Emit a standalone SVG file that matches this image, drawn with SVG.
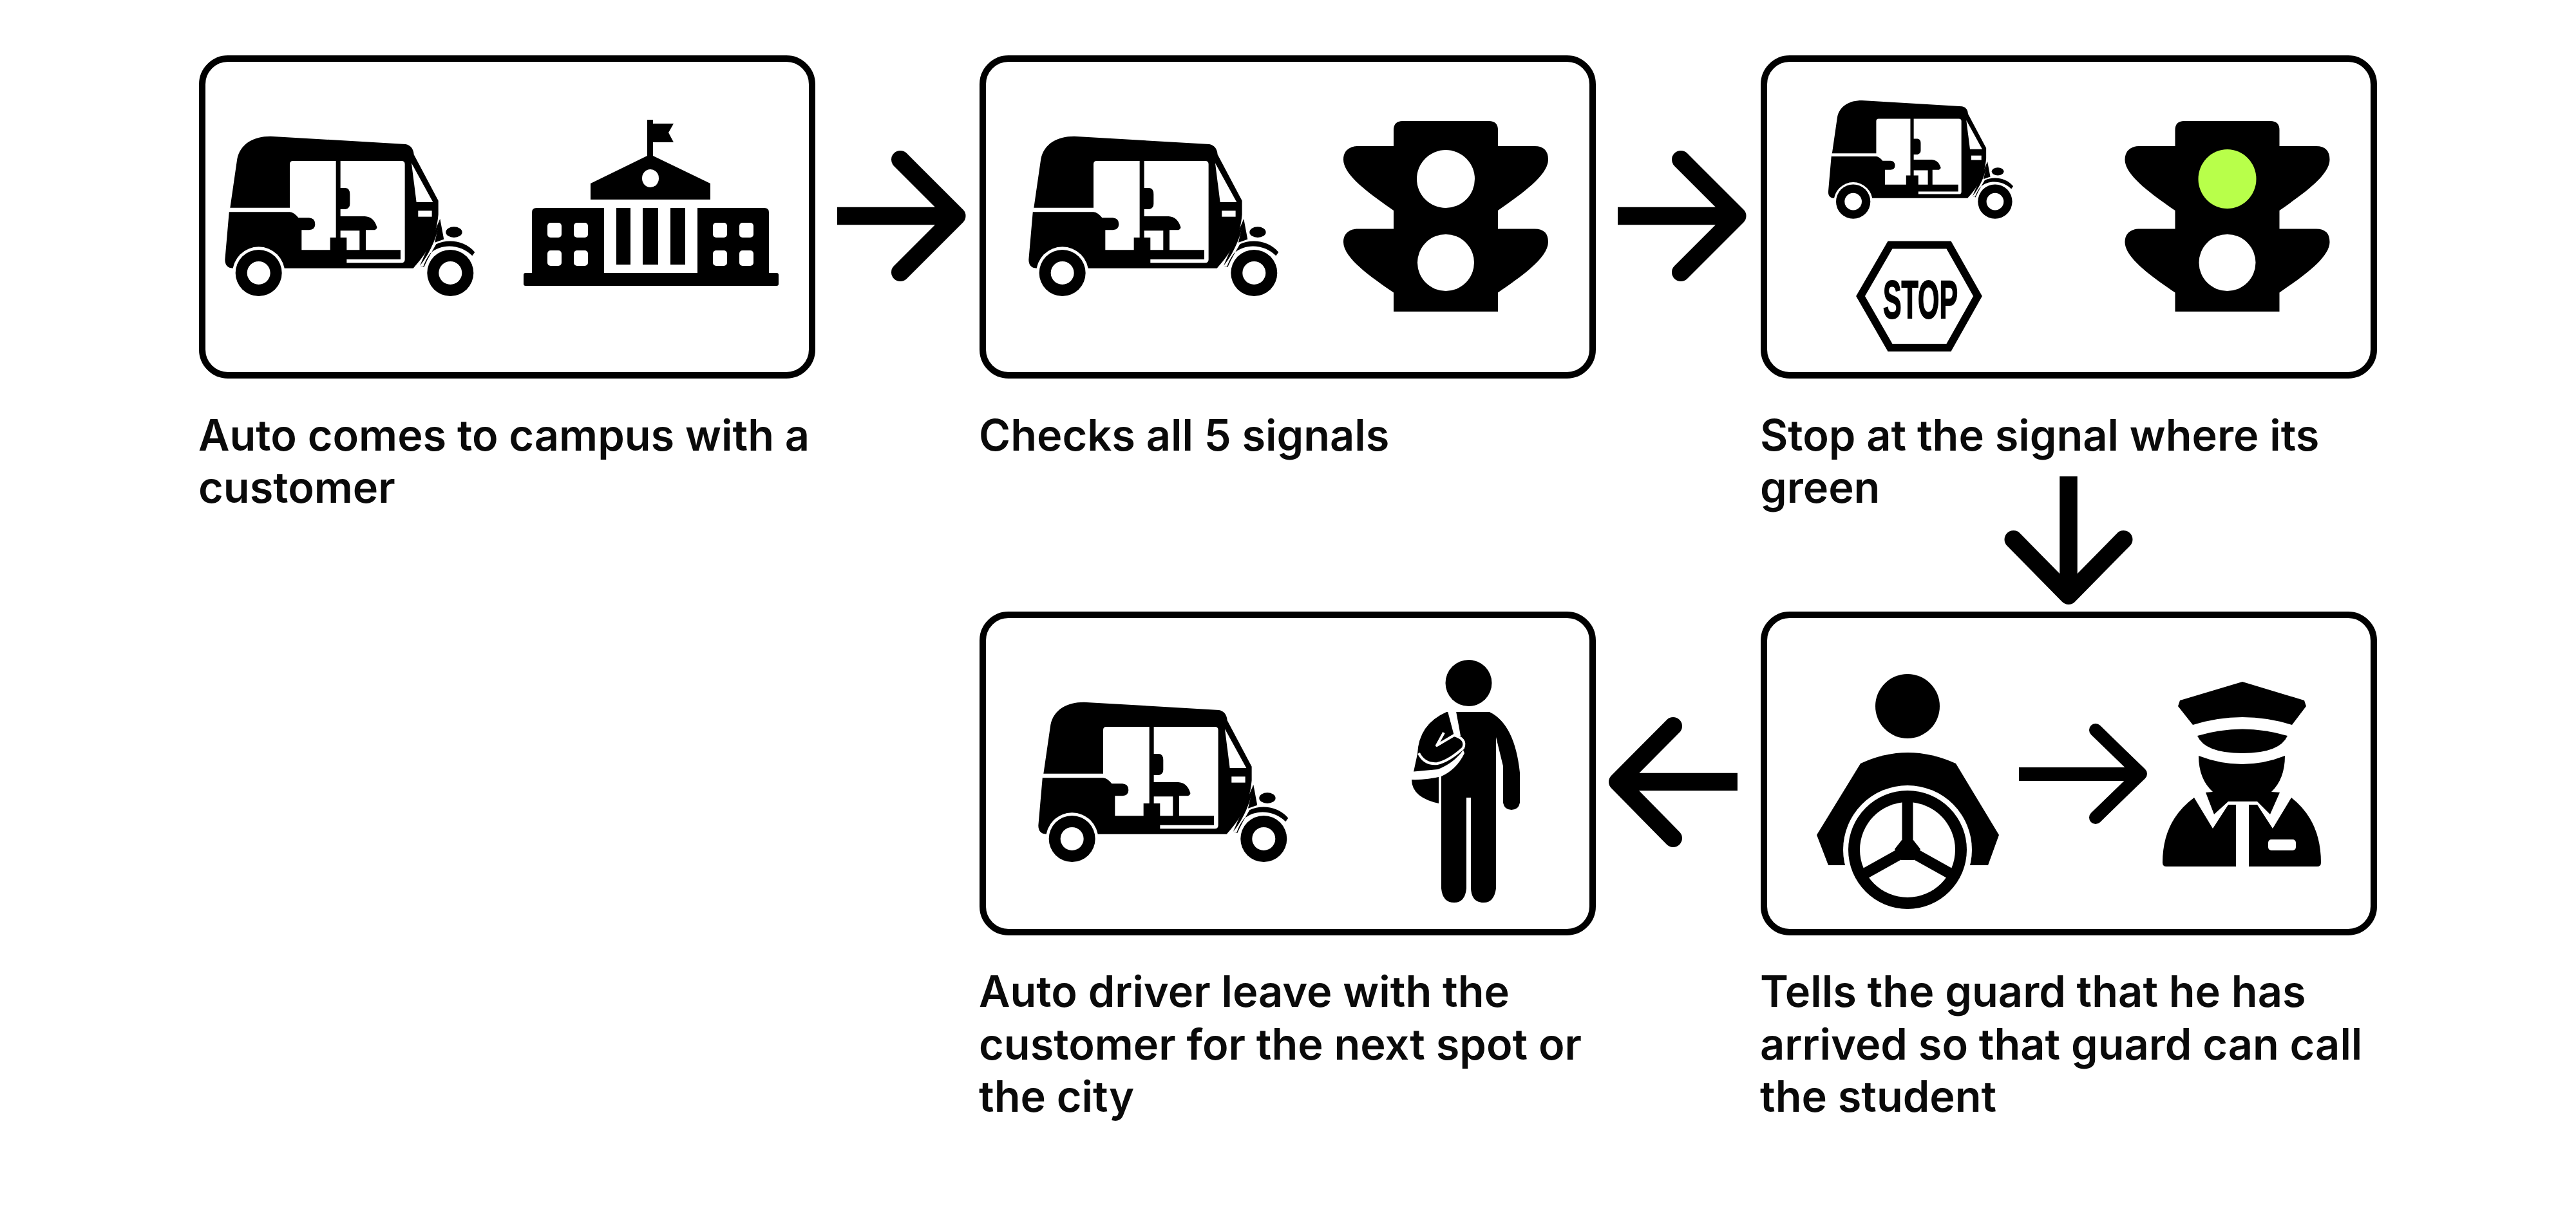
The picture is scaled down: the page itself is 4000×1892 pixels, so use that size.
<svg xmlns="http://www.w3.org/2000/svg" width="4000" height="1892" viewBox="0 0 4000 1892">
<style>
.panel{fill:#fff;stroke:#000;stroke-width:10}
.lbl{font-family:Inter,"Liberation Sans",sans-serif;font-weight:600;font-size:66.700px;fill:#0a0a0a}
.shaft{fill:none;stroke:#000;stroke-width:27.500}
.head{fill:none;stroke:#000;stroke-width:28;stroke-linejoin:round;stroke-linecap:round}
.w{fill:#fff}
.k{fill:#000}
</style>
<defs>
<g id="auto">
<path class="k" d="M52 398L85 170C100 100 160 65 240 65L870 102Q905 110 908 150L1022 365V430C1015 520 980 600 905 680H305L65 680C40 680 28 665 28 640L48 410Z"/>
<path class="w" d="M330 398V195Q330 180 345 180H545V537H518V595H385V502H420Q448 500 448 475Q448 447 420 445H370Q350 420 330 418H45L50 398Z"/>
<path class="w" d="M566 180H850Q866 180 866 195V640Q866 655 850 655H595V638H846V595H684V502H725Q740 495 735 485Q720 440 680 438H566V405H590Q610 400 610 380V335Q610 308 590 306H566Z"/>
<path class="w" d="M566 505H655V595H595V537H566Z"/>
<path class="w" d="M897 190L997 372H920Z"/>
<rect class="w" x="928" y="412" width="64" height="28"/>
<circle class="w" cx="185" cy="702" r="122"/>
<circle class="k" cx="185" cy="702" r="108"/>
<circle class="w" cx="185" cy="702" r="54"/>
<path class="k" d="M1030 450C1022 520 985 610 936 668L955 675C975 630 1000 590 1012 568C1060 545 1140 545 1192 605L1180 622C1130 570 1040 560 985 610C970 630 960 650 952 672L936 668Z"/>
<path class="k" d="M1030 450L1048 545L1005 560Z"/>
<ellipse class="k" cx="1095" cy="512" rx="38" ry="25"/>
<circle class="k" cx="1078" cy="702" r="108"/>
<circle class="w" cx="1078" cy="702" r="54"/>
</g>
<g id="light">
<path class="k" d="M-81 -131V-156Q-81 -170 -67 -170H67Q81 -170 81 -156V-131H138Q159 -131 159 -110C159 -85 115 -55 81 -31V-2.500H138Q159 -2.500 159 18C159 43 115 73 81 96.500V126H-81V96.500C-115 73 -159 43 -159 18C-159 -2.500 -138 -2.500 -138 -2.500H-81V-31C-115 -55 -159 -85 -159 -110C-159 -131 -138 -131 -138 -131Z"/>
</g>
</defs>
<rect width="4000" height="1892" fill="#fff"/>

<g id="connectors">
<path class="shaft" d="M1300 335.500H1485"/><path class="head" d="M1398 248L1485.500 335.500L1398 423"/>
<path class="shaft" d="M2512 335.500H2697"/><path class="head" d="M2610 248L2697.500 335.500L2610 423"/>
<path class="shaft" d="M3212 740V925"/><path class="head" d="M3126.500 838L3212 925L3297.500 838"/>
<path class="shaft" d="M2698 1214.500H2512"/><path class="head" d="M2598 1128L2512 1214.500L2598 1302"/>
</g>

<g id="node1">
<rect class="panel" x="314" y="91" width="947" height="492" rx="40"/>
<use href="#auto" transform="translate(340,190) scale(.3333)"/>
<g id="campus">
<rect class="k" x="813" y="424" width="396" height="20" rx="3"/>
<path class="k" d="M826 424V330Q826 323 833 323H938V424ZM1083 424V323H1187Q1194 323 1194 330V424Z"/>
<path class="k" d="M957 323h22v88h-22zM998 323h24v88h-24zM1041 323h23v88h-23z"/>
<path class="k" d="M917 310V285L1005 242V186H1014V192H1046L1038 206L1046 221H1014V242L1103 285V310Z"/>
<ellipse class="w" cx="1010" cy="277" rx="13" ry="14"/>
<g class="w">
<rect x="850" y="346" width="22" height="23" rx="5"/><rect x="891" y="346" width="22" height="23" rx="5"/>
<rect x="850" y="389" width="22" height="24" rx="5"/><rect x="891" y="389" width="22" height="24" rx="5"/>
<rect x="1107" y="346" width="22" height="23" rx="5"/><rect x="1148" y="346" width="22" height="23" rx="5"/>
<rect x="1107" y="389" width="22" height="24" rx="5"/><rect x="1148" y="389" width="22" height="24" rx="5"/>
</g>
</g>
<text class="lbl" x="308" y="700">Auto comes to campus with a</text>
<text class="lbl" x="308" y="781">customer</text>
</g>

<g id="node2">
<rect class="panel" x="1526" y="91" width="947" height="492" rx="40"/>
<use href="#auto" transform="translate(1588,190) scale(.3333)"/>
<use href="#light" transform="translate(2245,358)"/>
<ellipse class="w" cx="2245" cy="278" rx="45" ry="45"/>
<ellipse class="w" cx="2245" cy="408" rx="44" ry="44"/>
<text class="lbl" x="1520" y="700">Checks all 5 signals</text>
</g>

<g id="node3">
<rect class="panel" x="2739" y="91" width="947" height="492" rx="40"/>
<use href="#auto" transform="translate(2832,140) scale(.2467)"/>
<g id="stop">
<path fill="#fff" stroke="#000" stroke-width="12" d="M2935 380.500H3026L3071 460L3026 540H2935L2889 460Z"/>
<text x="2982" y="494" font-family="'Liberation Sans Narrow','Liberation Sans',sans-serif" font-weight="700" font-size="83" textLength="116" lengthAdjust="spacingAndGlyphs" text-anchor="middle" stroke="#000" stroke-width="2">STOP</text>
</g>
<use href="#light" transform="translate(3458.500,358)"/>
<ellipse cx="3458.500" cy="278" rx="45" ry="46" fill="#b8ff4a"/>
<ellipse class="w" cx="3458.500" cy="408" rx="44" ry="44"/>
<text class="lbl" x="2733" y="700">Stop at the signal where its</text>
<text class="lbl" x="2733" y="781">green</text>
</g>

<g id="node4">
<rect class="panel" x="2739" y="955" width="947" height="493" rx="40"/>
<g id="driver">
<circle class="k" cx="2962" cy="1097" r="50"/>
<path class="k" d="M2889 1186Q2962 1152 3037 1186L3104 1297L3087 1344H2839L2821 1297Z"/>
<circle class="w" cx="2962" cy="1320" r="100"/>
<path class="w" d="M2800 1345h45v30h-45zM3080 1345h45v30h-45z"/>
<circle class="k" cx="2962" cy="1320" r="92"/>
<circle class="w" cx="2962" cy="1320" r="74"/>
<path fill="none" stroke="#000" stroke-width="17" d="M2962 1240V1320M2962 1320L2894 1358M2962 1320L3030 1358"/>
<path class="k" d="M2953 1305H2971L2982 1319L2972 1336H2952L2942 1319Z"/>
</g>
<g id="inner-arrow">
<rect class="k" x="3135" y="1192" width="175" height="21"/>
<path fill="none" stroke="#000" stroke-width="20" stroke-linecap="round" stroke-linejoin="round" d="M3254 1134L3324 1202L3254 1270"/>
</g>
<g id="guard">
<path class="k" d="M3482 1059L3578 1088L3581 1097L3559 1126Q3482 1102 3405 1126L3382 1097L3385 1088Z"/>
<path class="k" d="M3412 1143Q3482 1122 3552 1143Q3540 1170 3482 1170Q3424 1170 3412 1143Z"/>
<path class="k" d="M3414 1174Q3482 1200 3548 1174Q3548 1210 3527 1230L3540 1231L3525 1265L3505 1245H3460L3438 1265L3425 1231L3436 1230Q3414 1210 3414 1174Z"/>
<path class="k" d="M3407 1239Q3358 1275 3358 1340Q3358 1346 3364 1346H3472V1250L3460 1250L3436 1287ZM3558 1239Q3604 1275 3604 1340Q3604 1346 3598 1346H3492V1250L3505 1250L3529 1287Z"/>
<rect class="w" x="3522" y="1304" width="43" height="17" rx="5"/>
</g>
<text class="lbl" x="2733" y="1564">Tells the guard that he has</text>
<text class="lbl" x="2733" y="1645.500">arrived so that guard can call</text>
<text class="lbl" x="2733" y="1727">the student</text>
</g>

<g id="node5">
<rect class="panel" x="1526" y="955" width="947" height="493" rx="40"/>
<use href="#auto" transform="translate(1603,1069) scale(.3333)"/>
<g id="person">
<ellipse class="k" cx="2280.500" cy="1061" rx="36" ry="36"/>
<path class="k" d="M2246 1106H2313Q2352 1125 2360 1200V1247Q2358 1258 2347 1258Q2336 1258 2334 1247V1190L2323 1145V1380Q2320 1402 2304 1402Q2285 1402 2284 1380V1239H2277V1380Q2275 1402 2258 1402Q2240 1402 2238 1380V1249Q2192 1240 2192 1211L2195 1199L2201 1171Q2203 1125 2246 1106Z"/>
<path class="w" d="M2248 1105H2261L2268 1143H2258Z"/>
<path fill="none" stroke="#fff" stroke-width="4" stroke-linejoin="round" d="M2203 1170Q2212 1188 2232 1186Q2250 1182 2272 1162Q2278 1148 2258 1142L2231 1158L2242 1138"/>
<path class="w" d="M2190 1199L2233 1195Q2258 1185 2272 1165L2274 1170Q2262 1195 2238 1206Q2215 1212 2190 1211Z"/>
<rect class="w" x="2234" y="1205" width="4" height="50"/>
</g>
<text class="lbl" x="1520" y="1564">Auto driver leave with the</text>
<text class="lbl" x="1520" y="1645.500">customer for the next spot or</text>
<text class="lbl" x="1520" y="1727">the city</text>
</g>
</svg>
